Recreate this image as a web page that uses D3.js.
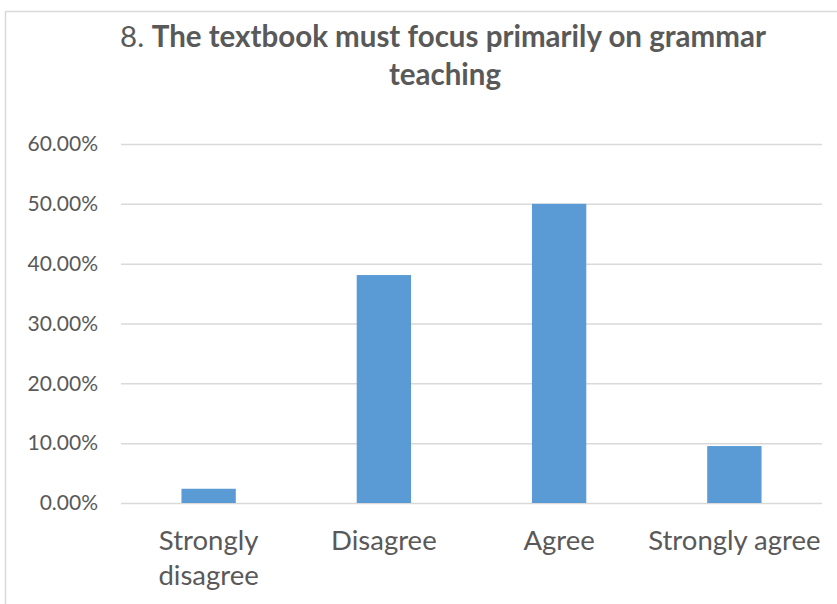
<!DOCTYPE html>
<html><head><meta charset="utf-8">
<script src="https://cdn.jsdelivr.net/npm/d3@7"></script>
<style>body{margin:0;background:#fff;} svg{display:block;}</style>
</head><body>
<script>
const categories = [["Strongly","disagree"],["Disagree"],["Agree"],["Strongly agree"]];
const values = [0.0238, 0.381, 0.50, 0.0952];
const yTicks = [0, 0.1, 0.2, 0.3, 0.4, 0.5, 0.6];
const titleNum = "8. ";
const titleLines = ["The textbook must focus primarily on grammar", "teaching"];

const W = 837, H = 604;
const svg = d3.select("body").append("svg").attr("width", W).attr("height", H);
svg.append("rect").attr("x", 5.5).attr("y", 11.5).attr("width", W + 10).attr("height", H + 10)
  .attr("fill", "#fff").attr("stroke", "#d9d9d9").attr("stroke-width", 1.5);

const font = "Lato, 'Open Sans', sans-serif";
const x = d3.scaleBand().domain(d3.range(categories.length)).range([121, 822]).paddingInner(0.69).paddingOuter(0.345);
const y = d3.scaleLinear().domain([0, 0.6]).range([503, 144]);

const gy = svg.append("g").attr("transform", "translate(121,0)")
  .call(d3.axisLeft(y).tickValues(yTicks).tickSize(-701).tickFormat(d3.format(".2%")).tickPadding(23));
gy.select(".domain").remove();
gy.selectAll(".tick line").attr("stroke", "#d9d9d9").attr("stroke-width", 1.5);
gy.selectAll(".tick text").attr("fill", "#595959").style("font-family", font).style("font-size", "21px");

svg.selectAll("rect.bar").data(values).enter().append("rect").attr("class", "bar")
  .attr("x", (d, i) => x(i)).attr("width", x.bandwidth())
  .attr("y", d => y(d)).attr("height", d => y(0) - y(d)).attr("fill", "#5b9bd5");

const band = d3.scaleBand().domain(d3.range(categories.length)).range([121, 822]);
const cl = svg.append("g");
categories.forEach((lines, i) => {
  const cx = band(i) + band.bandwidth() / 2;
  const t = cl.append("text").attr("x", cx).attr("y", 550)
    .attr("text-anchor", "middle").attr("fill", "#595959")
    .style("font-family", font).style("font-size", "27.5px");
  lines.forEach((l, j) => t.append("tspan").attr("x", cx).attr("dy", j ? 35 : 0).text(l));
});

const t1 = svg.append("text").attr("x", 443).attr("y", 47).attr("text-anchor", "middle")
  .attr("fill", "#595959").style("font-family", font).style("font-size", "29.5px");
t1.append("tspan").style("font-weight", "normal").text(titleNum);
t1.append("tspan").style("font-weight", "bold").text(titleLines[0]);
svg.append("text").attr("x", 445).attr("y", 85).attr("text-anchor", "middle")
  .attr("fill", "#595959").style("font-family", font).style("font-size", "29.5px").style("font-weight", "bold")
  .text(titleLines[1]);
</script>
</body></html>
